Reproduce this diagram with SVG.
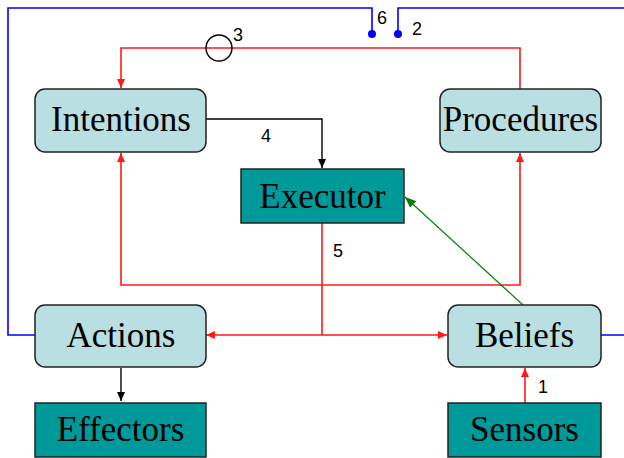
<svg xmlns="http://www.w3.org/2000/svg" width="624" height="458" viewBox="0 0 624 458">
<style>
.soft{fill:#b9dfe2;stroke:#222;stroke-width:1.5}
.hard{fill:#009999;stroke:#222;stroke-width:1.5}
.t{font-family:"Liberation Serif","Times New Roman",serif;font-size:35px;fill:#000;text-anchor:middle}
.n{font-family:"Liberation Sans",Arial,sans-serif;font-size:18px;fill:#000;text-anchor:middle}
.red{fill:none;stroke:#ff1a1a;stroke-width:1.6}
.blue{fill:none;stroke:#0000ff;stroke-width:1.6}
.blk{fill:none;stroke:#000;stroke-width:1.4}
.grn{fill:none;stroke:#008000;stroke-width:1.2}
</style>
<defs>
<marker id="ar" markerUnits="userSpaceOnUse" markerWidth="10" markerHeight="8" refX="9" refY="4" orient="auto-start-reverse"><path d="M0,0 L9,4 L0,8 z" fill="#ff1a1a"/></marker>
<marker id="ab" markerUnits="userSpaceOnUse" markerWidth="10" markerHeight="8" refX="9" refY="4" orient="auto"><path d="M0,0 L9,4 L0,8 z" fill="#000"/></marker>
<marker id="ag" markerUnits="userSpaceOnUse" markerWidth="12" markerHeight="9" refX="11" refY="4.5" orient="auto"><path d="M0,0 L11,4.5 L0,9 z" fill="#008000"/></marker>
</defs>
<rect width="624" height="458" fill="#fff"/>
<g id="connectors">
<path class="blue" d="M372,34 V8 H8 V335 H35"/>
<path class="blue" d="M398,34 V8 H630 V335 H601"/>
<circle cx="372" cy="34" r="4" fill="#0000ff"/>
<circle cx="398" cy="34" r="4" fill="#0000ff"/>
<path class="red" d="M520,89 V48 H121 V88" marker-end="url(#ar)"/>
<circle cx="219" cy="48" r="13" fill="none" stroke="#000" stroke-width="1.4"/>
<path class="blk" d="M205,119 H322 V168" marker-end="url(#ab)"/>
<path class="red" d="M121,153 V285 H520 V153" marker-start="url(#ar)" marker-end="url(#ar)"/>
<path class="red" d="M322,223 V335"/>
<path class="red" d="M206,335 H447" marker-start="url(#ar)" marker-end="url(#ar)"/>
<path class="grn" d="M523,305 L405,197" marker-end="url(#ag)"/>
<path class="blk" d="M121,368 V401" marker-end="url(#ab)"/>
<path class="red" d="M525,403 V368" marker-end="url(#ar)"/>
<text class="n" x="238" y="41">3</text>
<text class="n" x="382" y="24">6</text>
<text class="n" x="417" y="35">2</text>
<text class="n" x="266" y="142">4</text>
<text class="n" x="338" y="257">5</text>
<text class="n" x="543" y="393">1</text>
</g>
<g id="intentions"><rect class="soft" x="35" y="89" width="171" height="63" rx="10"/><text class="t" x="121" y="131">Intentions</text></g>
<g id="procedures"><rect class="soft" x="440" y="89" width="161" height="63" rx="10"/><text class="t" x="520.5" y="131">Procedures</text></g>
<g id="executor"><rect class="hard" x="241" y="169" width="163" height="54"/><text class="t" x="322.5" y="208">Executor</text></g>
<g id="actions"><rect class="soft" x="35" y="305" width="171" height="62" rx="10"/><text class="t" x="121" y="347">Actions</text></g>
<g id="beliefs"><rect class="soft" x="448" y="305" width="153" height="62" rx="10"/><text class="t" x="524.5" y="347">Beliefs</text></g>
<g id="effectors"><rect class="hard" x="35" y="403" width="171" height="54"/><text class="t" x="120.5" y="441">Effectors</text></g>
<g id="sensors"><rect class="hard" x="448" y="403" width="153" height="54"/><text class="t" x="524.5" y="441">Sensors</text></g>
</svg>
